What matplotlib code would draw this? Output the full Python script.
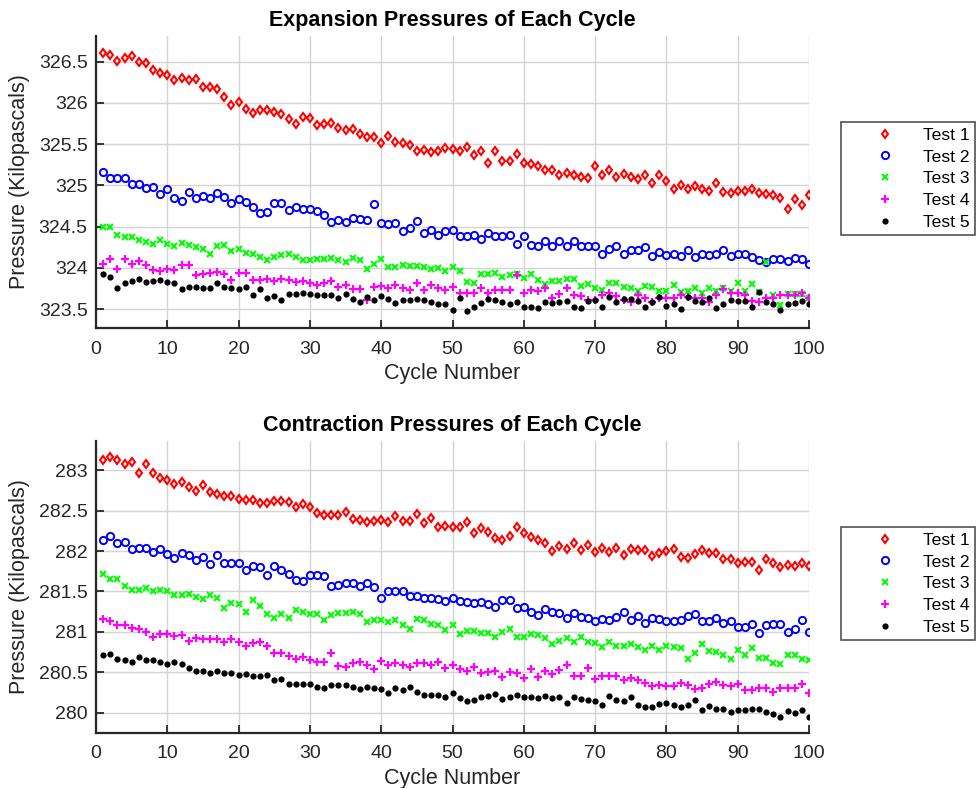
import matplotlib
matplotlib.use('Agg')
import matplotlib.pyplot as plt

# cycle numbers
cycles = list(range(1, 101))

# expansion pressures (kPa)
exp_test1 = [326.60, 326.58, 326.51, 326.54, 326.57, 326.50, 326.48, 326.40, 326.36, 326.34,
             326.28, 326.30, 326.28, 326.29, 326.19, 326.19, 326.17, 326.07, 325.97, 326.01,
             325.92, 325.88, 325.91, 325.91, 325.89, 325.87, 325.80, 325.74, 325.83, 325.82,
             325.73, 325.74, 325.75, 325.69, 325.67, 325.68, 325.62, 325.58, 325.59, 325.51,
             325.60, 325.52, 325.51, 325.49, 325.41, 325.43, 325.40, 325.42, 325.45, 325.44,
             325.41, 325.46, 325.37, 325.42, 325.27, 325.41, 325.29, 325.30, 325.38, 325.27,
             325.26, 325.24, 325.19, 325.18, 325.13, 325.15, 325.13, 325.10, 325.09, 325.23,
             325.13, 325.19, 325.10, 325.14, 325.10, 325.08, 325.13, 325.03, 325.13, 325.05,
             324.96, 325.00, 324.96, 324.99, 324.95, 324.93, 325.03, 324.92, 324.91, 324.93,
             324.93, 324.95, 324.91, 324.89, 324.88, 324.85, 324.71, 324.83, 324.76, 324.88]
exp_test2 = [325.16, 325.09, 325.09, 325.09, 325.01, 325.01, 324.97, 324.98, 324.89, 324.95,
             324.85, 324.81, 324.92, 324.85, 324.87, 324.84, 324.91, 324.86, 324.79, 324.83,
             324.80, 324.74, 324.67, 324.68, 324.78, 324.79, 324.70, 324.74, 324.71, 324.71,
             324.69, 324.64, 324.55, 324.58, 324.55, 324.60, 324.59, 324.58, 324.77, 324.54,
             324.53, 324.54, 324.45, 324.48, 324.57, 324.42, 324.46, 324.40, 324.45, 324.46,
             324.39, 324.38, 324.40, 324.35, 324.42, 324.39, 324.39, 324.40, 324.29, 324.38,
             324.28, 324.27, 324.32, 324.26, 324.32, 324.27, 324.33, 324.27, 324.27, 324.27,
             324.17, 324.23, 324.27, 324.17, 324.21, 324.22, 324.25, 324.14, 324.19, 324.15,
             324.17, 324.14, 324.21, 324.13, 324.17, 324.15, 324.17, 324.21, 324.14, 324.17,
             324.17, 324.13, 324.09, 324.07, 324.11, 324.11, 324.08, 324.12, 324.11, 324.04]
exp_test3 = [324.50, 324.50, 324.40, 324.37, 324.37, 324.34, 324.31, 324.29, 324.34, 324.29,
             324.26, 324.30, 324.28, 324.25, 324.23, 324.17, 324.26, 324.28, 324.20, 324.23,
             324.18, 324.17, 324.13, 324.10, 324.13, 324.15, 324.17, 324.13, 324.10, 324.09,
             324.11, 324.11, 324.12, 324.09, 324.07, 324.12, 324.09, 323.98, 324.04, 324.11,
             324.01, 324.01, 324.03, 324.02, 324.02, 324.01, 323.98, 324.00, 323.96, 324.01,
             323.96, 323.83, 323.82, 323.93, 323.92, 323.94, 323.89, 323.91, 323.92, 323.88,
             323.92, 323.85, 323.80, 323.84, 323.84, 323.87, 323.87, 323.78, 323.80, 323.76,
             323.73, 323.81, 323.81, 323.77, 323.76, 323.72, 323.78, 323.77, 323.72, 323.72,
             323.79, 323.71, 323.72, 323.75, 323.70, 323.76, 323.72, 323.76, 323.72, 323.82,
             323.72, 323.80, 323.71, 324.07, 323.67, 323.55, 323.68, 323.68, 323.68, 323.63]
exp_test4 = [324.05, 324.11, 323.99, 324.11, 324.05, 324.08, 324.03, 323.97, 323.96, 323.98,
             323.97, 324.03, 324.03, 323.91, 323.92, 323.94, 323.95, 323.92, 323.85, 323.94,
             323.94, 323.85, 323.85, 323.87, 323.84, 323.86, 323.85, 323.83, 323.84, 323.81,
             323.79, 323.81, 323.84, 323.77, 323.79, 323.74, 323.74, 323.61, 323.77, 323.78,
             323.75, 323.79, 323.75, 323.73, 323.82, 323.73, 323.79, 323.75, 323.73, 323.77,
             323.70, 323.70, 323.69, 323.75, 323.69, 323.73, 323.73, 323.73, 323.91, 323.69,
             323.73, 323.72, 323.75, 323.63, 323.68, 323.75, 323.67, 323.66, 323.61, 323.61,
             323.67, 323.69, 323.66, 323.61, 323.58, 323.67, 323.63, 323.59, 323.63, 323.63,
             323.63, 323.67, 323.65, 323.63, 323.63, 323.59, 323.67, 323.74, 323.69, 323.69,
             323.67, 323.60, 323.58, 323.63, 323.63, 323.67, 323.67, 323.67, 323.70, 323.63]
exp_test5 = [323.93, 323.89, 323.76, 323.82, 323.84, 323.87, 323.83, 323.84, 323.85, 323.83,
             323.82, 323.74, 323.77, 323.77, 323.75, 323.76, 323.81, 323.77, 323.76, 323.74,
             323.77, 323.67, 323.74, 323.63, 323.66, 323.61, 323.68, 323.68, 323.69, 323.68,
             323.67, 323.67, 323.67, 323.63, 323.68, 323.62, 323.58, 323.65, 323.61, 323.66,
             323.62, 323.57, 323.61, 323.61, 323.62, 323.61, 323.59, 323.56, 323.56, 323.49,
             323.63, 323.48, 323.53, 323.57, 323.62, 323.61, 323.59, 323.56, 323.59, 323.52,
             323.53, 323.51, 323.58, 323.57, 323.59, 323.60, 323.53, 323.51, 323.60, 323.61,
             323.52, 323.64, 323.59, 323.62, 323.62, 323.60, 323.52, 323.58, 323.64, 323.54,
             323.56, 323.50, 323.65, 323.60, 323.58, 323.63, 323.51, 323.56, 323.61, 323.60,
             323.60, 323.53, 323.71, 323.59, 323.56, 323.49, 323.56, 323.57, 323.60, 323.56]

# contraction pressures (kPa)
con_test1 = [283.12, 283.16, 283.13, 283.07, 283.10, 282.96, 283.07, 282.96, 282.90, 282.88,
             282.83, 282.85, 282.79, 282.74, 282.81, 282.73, 282.70, 282.68, 282.68, 282.64,
             282.63, 282.63, 282.59, 282.59, 282.62, 282.62, 282.60, 282.55, 282.58, 282.55,
             282.47, 282.45, 282.45, 282.45, 282.48, 282.39, 282.38, 282.36, 282.37, 282.38,
             282.36, 282.43, 282.37, 282.37, 282.46, 282.35, 282.41, 282.30, 282.31, 282.30,
             282.30, 282.36, 282.22, 282.29, 282.24, 282.16, 282.14, 282.18, 282.30, 282.22,
             282.17, 282.13, 282.10, 282.00, 282.06, 282.03, 282.10, 282.01, 282.08, 281.99,
             282.04, 281.99, 282.04, 281.95, 282.03, 282.01, 282.01, 281.94, 281.97, 282.00,
             282.03, 281.92, 281.91, 281.96, 282.01, 281.97, 281.98, 281.90, 281.90, 281.85,
             281.86, 281.86, 281.76, 281.90, 281.85, 281.80, 281.83, 281.82, 281.85, 281.81]
con_test2 = [282.14, 282.18, 282.10, 282.11, 282.02, 282.04, 282.04, 281.99, 282.03, 281.96,
             281.91, 281.97, 281.95, 281.89, 281.93, 281.84, 281.95, 281.85, 281.85, 281.85,
             281.77, 281.81, 281.80, 281.70, 281.82, 281.77, 281.71, 281.64, 281.63, 281.70,
             281.70, 281.69, 281.57, 281.58, 281.60, 281.60, 281.57, 281.60, 281.55, 281.42,
             281.50, 281.51, 281.51, 281.44, 281.44, 281.42, 281.42, 281.41, 281.38, 281.42,
             281.38, 281.37, 281.36, 281.37, 281.34, 281.31, 281.40, 281.40, 281.30, 281.31,
             281.24, 281.21, 281.28, 281.24, 281.23, 281.17, 281.23, 281.19, 281.17, 281.13,
             281.16, 281.15, 281.19, 281.24, 281.15, 281.20, 281.11, 281.17, 281.16, 281.13,
             281.14, 281.15, 281.20, 281.22, 281.14, 281.13, 281.17, 281.11, 281.13, 281.06,
             281.06, 281.10, 280.99, 281.08, 281.10, 281.10, 281.00, 281.04, 281.15, 281.00]
con_test3 = [281.71, 281.66, 281.66, 281.57, 281.52, 281.52, 281.54, 281.50, 281.52, 281.50,
             281.46, 281.46, 281.47, 281.43, 281.41, 281.46, 281.42, 281.30, 281.36, 281.35,
             281.25, 281.39, 281.32, 281.22, 281.17, 281.22, 281.17, 281.27, 281.24, 281.22,
             281.22, 281.15, 281.21, 281.23, 281.23, 281.24, 281.22, 281.12, 281.15, 281.15,
             281.12, 281.15, 281.09, 281.03, 281.16, 281.15, 281.10, 281.08, 281.02, 281.09,
             280.98, 281.01, 281.01, 280.99, 280.99, 280.94, 281.00, 281.04, 280.94, 280.94,
             280.98, 280.96, 280.93, 280.85, 280.89, 280.92, 280.88, 280.94, 280.87, 280.86,
             280.81, 280.88, 280.82, 280.82, 280.85, 280.81, 280.78, 280.82, 280.77, 280.82,
             280.81, 280.80, 280.66, 280.74, 280.85, 280.76, 280.75, 280.72, 280.66, 280.77,
             280.71, 280.80, 280.68, 280.68, 280.61, 280.60, 280.72, 280.71, 280.66, 280.65]
con_test4 = [281.16, 281.14, 281.09, 281.09, 281.05, 281.04, 281.00, 280.94, 280.98, 280.98,
             280.95, 280.96, 280.89, 280.92, 280.91, 280.91, 280.91, 280.87, 280.91, 280.87,
             280.82, 280.86, 280.87, 280.83, 280.74, 280.74, 280.70, 280.66, 280.69, 280.65,
             280.63, 280.63, 280.74, 280.58, 280.56, 280.62, 280.63, 280.59, 280.54, 280.64,
             280.59, 280.62, 280.59, 280.57, 280.61, 280.61, 280.59, 280.63, 280.55, 280.59,
             280.54, 280.52, 280.56, 280.49, 280.50, 280.52, 280.44, 280.50, 280.49, 280.43,
             280.54, 280.44, 280.52, 280.48, 280.53, 280.59, 280.45, 280.46, 280.55, 280.42,
             280.45, 280.46, 280.45, 280.40, 280.43, 280.41, 280.37, 280.33, 280.34, 280.33,
             280.33, 280.37, 280.34, 280.30, 280.31, 280.35, 280.38, 280.34, 280.33, 280.35,
             280.28, 280.28, 280.31, 280.31, 280.26, 280.31, 280.31, 280.31, 280.35, 280.25]
con_test5 = [280.71, 280.73, 280.66, 280.65, 280.63, 280.69, 280.65, 280.65, 280.63, 280.60,
             280.63, 280.60, 280.55, 280.52, 280.52, 280.49, 280.52, 280.49, 280.49, 280.47,
             280.48, 280.45, 280.45, 280.47, 280.41, 280.42, 280.35, 280.35, 280.36, 280.36,
             280.32, 280.31, 280.34, 280.34, 280.34, 280.32, 280.29, 280.32, 280.31, 280.30,
             280.24, 280.31, 280.28, 280.32, 280.26, 280.22, 280.22, 280.22, 280.19, 280.25,
             280.18, 280.15, 280.16, 280.19, 280.21, 280.23, 280.17, 280.19, 280.22, 280.19,
             280.19, 280.18, 280.21, 280.18, 280.19, 280.12, 280.19, 280.17, 280.16, 280.14,
             280.10, 280.21, 280.16, 280.14, 280.19, 280.10, 280.07, 280.07, 280.11, 280.12,
             280.10, 280.07, 280.09, 280.16, 280.03, 280.08, 280.05, 280.05, 280.01, 280.04,
             280.04, 280.05, 280.05, 280.01, 279.98, 279.95, 280.02, 280.00, 280.04, 279.95]

test_names = ['Test 1', 'Test 2', 'Test 3', 'Test 4', 'Test 5']

# matlab-ish marker styles for the five tests
styles = [dict(marker='d', color='red', mfc='none', ms=4.3, mew=1.5),
          dict(marker='o', color='blue', mfc='none', ms=5.2, mew=1.4),
          dict(marker='x', color=(0, 1, 0), ms=4, mew=1.5),
          dict(marker='+', color='magenta', ms=6, mew=1.6),
          dict(marker='o', color='black', ms=4.5, mew=0)]

plt.rcParams['font.family'] = ['Liberation Sans', 'DejaVu Sans']

fig = plt.figure(figsize=(9.79, 7.88), dpi=100)

# axes placed by pixel position of the reference
ax_top = fig.add_axes([96 / 979, 1 - 328 / 788, 713 / 979, 292 / 788])
ax_bot = fig.add_axes([96 / 979, 1 - 733 / 788, 713 / 979, 292 / 788])


def draw_panel(ax, series, title, ylim, yticks, yticklabels):
    for vals, name, st in zip(series, test_names, styles):
        ax.plot(cycles, vals, linestyle='none', label=name, **st)
    ax.set_xlim(0, 100)
    ax.set_ylim(*ylim)
    ax.set_xticks(range(0, 101, 10))
    ax.set_yticks(yticks)
    ax.set_yticklabels(yticklabels)
    ax.grid(True, color='#d4d4d4', linewidth=1)
    ax.set_axisbelow(True)
    for side in ['top', 'right']:
        ax.spines[side].set_visible(False)
    for side in ['left', 'bottom']:
        ax.spines[side].set_linewidth(1.6)
        ax.spines[side].set_color('#262626')
    ax.tick_params(direction='in', length=6, width=1.3, color='#262626',
                   labelcolor='#262626', labelsize=14)
    ax.tick_params(axis='x', pad=9)
    ax.tick_params(axis='y', pad=6)
    ax.set_title(title, fontweight='bold', fontsize=15.5, pad=7)
    ax.set_xlabel('Cycle Number', fontsize=15.5, labelpad=4, color='#262626')
    ax.set_ylabel('Pressure (Kilopascals)', fontsize=15.5, labelpad=6, color='#262626')
    leg = ax.legend(loc='upper left', bbox_to_anchor=(1.045, 0.705), fontsize=12.6,
                    frameon=True, fancybox=False, edgecolor='#262626',
                    handlelength=4.4, handletextpad=0.0, borderpad=0.3,
                    labelspacing=0.38, borderaxespad=0)
    leg.get_frame().set_linewidth(1.2)


draw_panel(ax_top, [exp_test1, exp_test2, exp_test3, exp_test4, exp_test5],
           'Expansion Pressures of Each Cycle', (323.27, 326.81),
           [323.5, 324, 324.5, 325, 325.5, 326, 326.5],
           ['323.5', '324', '324.5', '325', '325.5', '326', '326.5'])

draw_panel(ax_bot, [con_test1, con_test2, con_test3, con_test4, con_test5],
           'Contraction Pressures of Each Cycle', (279.75, 283.36),
           [280, 280.5, 281, 281.5, 282, 282.5, 283],
           ['280', '280.5', '281', '281.5', '282', '282.5', '283'])

plt.savefig('out.png', dpi=100)
